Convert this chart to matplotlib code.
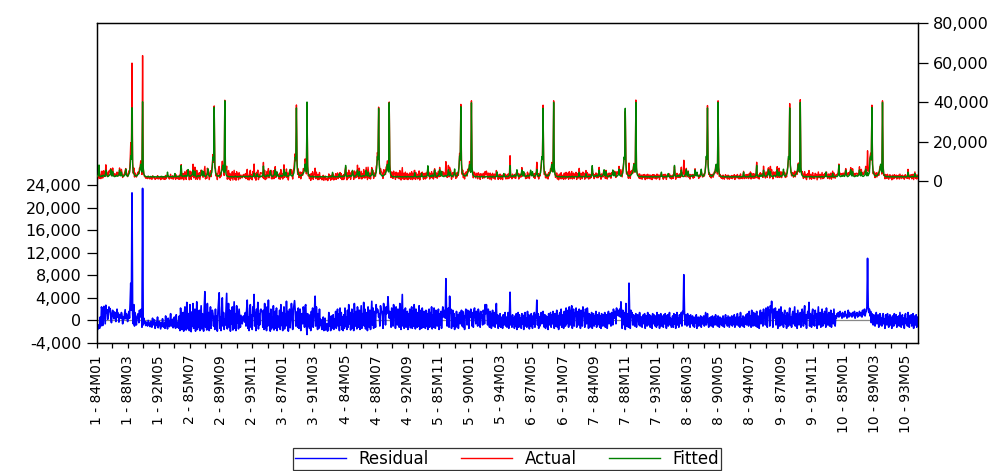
import matplotlib
matplotlib.use("Agg")
import matplotlib.pyplot as plt
from matplotlib.ticker import FuncFormatter, FixedLocator
from matplotlib.lines import Line2D
import numpy as np

# ---------------- data (values in hundreds) ----------------
# fitted values, one list per cross-section (132 monthly obs each)
fitted_s1 = [24, 22, 26, 31, 81, 27, 23, 22, 25, 28, 24, 30,
             26, 23, 29, 55, 33, 25, 22, 24, 27, 30, 36, 58,
             31, 25, 48, 27, 24, 22, 23, 26, 29, 25, 24, 27,
             30, 56, 32, 26, 45, 28, 24, 23, 25, 29, 33, 60,
             30, 26, 24, 27, 35, 42, 70, 128, 110, 371, 85, 45,
             38, 30, 27, 25, 28, 26, 31, 34, 40, 48, 62, 85,
             55, 45, 401, 70, 35, 28, 25, 23, 22, 21, 22, 24,
             21, 20, 22, 23, 21, 20, 22, 24, 21, 20, 22, 21,
             20, 22, 21, 23, 22, 20, 21, 22, 24, 21, 20, 22,
             21, 23, 22, 20, 21, 22, 45, 24, 22, 21, 23, 22,
             22, 21, 24, 22, 21, 23, 38, 22, 21, 22, 24, 23]
fitted_s2 = [23, 21, 27, 30, 78, 26, 22, 24, 25, 27, 23, 29,
             25, 22, 30, 58, 31, 24, 23, 25, 28, 31, 34, 55,
             30, 26, 50, 28, 23, 21, 24, 27, 28, 24, 25, 26,
             29, 54, 31, 27, 48, 29, 23, 22, 26, 30, 35, 62,
             31, 25, 23, 28, 36, 44, 72, 122, 105, 373, 82, 44,
             37, 29, 26, 24, 27, 25, 30, 33, 42, 50, 60, 80,
             52, 44, 406, 68, 34, 27, 24, 22, 23, 22, 21, 23,
             22, 21, 23, 22, 20, 21, 23, 25, 22, 21, 23, 22,
             21, 23, 22, 24, 21, 21, 22, 23, 25, 22, 21, 23,
             22, 24, 23, 21, 22, 23, 24, 26, 23, 21, 22, 24,
             23, 40, 25, 23, 22, 24, 36, 23, 22, 21, 25, 24]
fitted_s3 = [22, 24, 25, 29, 76, 28, 24, 21, 24, 29, 25, 31,
             27, 24, 28, 52, 34, 26, 23, 23, 26, 29, 37, 57,
             32, 24, 46, 26, 25, 23, 22, 25, 30, 26, 23, 28,
             31, 58, 33, 25, 44, 27, 25, 24, 24, 28, 32, 59,
             29, 27, 25, 26, 34, 41, 68, 120, 112, 370, 88, 46,
             39, 31, 28, 26, 29, 27, 32, 35, 39, 46, 64, 86,
             57, 46, 400, 72, 36, 29, 26, 24, 21, 22, 23, 25,
             20, 21, 21, 22, 22, 21, 21, 23, 20, 21, 23, 22,
             21, 21, 22, 22, 23, 21, 22, 21, 23, 22, 21, 21,
             20, 22, 23, 21, 22, 21, 22, 44, 23, 21, 22, 22,
             21, 22, 23, 21, 22, 22, 37, 21, 22, 23, 23, 22]
fitted_s4 = [25, 23, 24, 32, 79, 26, 22, 23, 26, 27, 25, 28,
             25, 24, 28, 54, 32, 26, 21, 25, 26, 31, 35, 56,
             30, 24, 47, 28, 25, 23, 24, 25, 28, 26, 25, 26,
             31, 55, 31, 25, 46, 27, 25, 22, 26, 28, 34, 58,
             31, 27, 25, 26, 36, 43, 69, 124, 108, 368, 84, 46,
             37, 31, 28, 24, 27, 27, 30, 35, 41, 47, 61, 84,
             54, 46, 396, 69, 36, 29, 24, 22, 23, 22, 21, 23,
             22, 21, 21, 24, 22, 21, 23, 23, 22, 21, 21, 22,
             21, 21, 22, 22, 23, 21, 20, 23, 23, 22, 21, 21,
             22, 22, 23, 21, 22, 21, 24, 42, 23, 23, 20, 22,
             21, 22, 25, 21, 22, 22, 39, 23, 22, 21, 23, 24]
fitted_s5 = [24, 23, 25, 30, 77, 28, 24, 22, 24, 28, 23, 31,
             27, 22, 30, 56, 32, 24, 23, 24, 28, 29, 37, 57,
             32, 26, 49, 26, 24, 23, 22, 27, 28, 24, 25, 28,
             29, 57, 33, 27, 46, 29, 23, 24, 24, 30, 32, 61,
             29, 25, 25, 28, 34, 43, 71, 126, 111, 376, 86, 44,
             39, 29, 28, 26, 29, 25, 32, 33, 41, 49, 63, 83,
             56, 44, 396, 71, 34, 28, 26, 22, 22, 21, 23, 24,
             21, 22, 22, 23, 20, 21, 22, 24, 21, 21, 22, 22,
             20, 22, 22, 23, 21, 20, 22, 22, 24, 22, 20, 23,
             21, 24, 22, 21, 21, 22, 23, 46, 24, 22, 22, 23,
             23, 21, 24, 23, 21, 22, 38, 22, 22, 21, 24, 23]
fitted_s6 = [23, 22, 26, 30, 78, 27, 22, 23, 25, 27, 24, 30,
             26, 23, 29, 57, 33, 25, 22, 25, 27, 30, 35, 56,
             31, 25, 47, 27, 24, 22, 23, 26, 29, 25, 25, 27,
             30, 55, 32, 26, 47, 28, 24, 23, 25, 29, 34, 59,
             30, 26, 24, 27, 35, 42, 70, 123, 109, 368, 85, 45,
             38, 30, 27, 25, 28, 26, 31, 34, 40, 48, 62, 84,
             55, 45, 398, 70, 35, 28, 25, 23, 22, 21, 22, 24,
             21, 20, 22, 23, 21, 20, 22, 24, 21, 20, 22, 21,
             20, 22, 21, 23, 22, 20, 21, 22, 24, 21, 20, 22,
             21, 23, 22, 20, 21, 22, 23, 44, 24, 22, 21, 23,
             22, 21, 24, 22, 21, 23, 37, 22, 21, 22, 24, 23]
fitted_s7 = [24, 21, 25, 31, 78, 28, 23, 22, 24, 28, 25, 29,
             26, 24, 28, 55, 34, 24, 23, 24, 26, 30, 36, 57,
             30, 25, 48, 28, 24, 21, 23, 26, 28, 25, 24, 28,
             31, 56, 31, 26, 45, 27, 24, 24, 25, 28, 33, 60,
             30, 27, 24, 26, 35, 41, 70, 121, 110, 368, 84, 45,
             38, 30, 26, 25, 28, 27, 31, 33, 40, 47, 62, 85,
             55, 45, 398, 70, 35, 27, 25, 23, 22, 22, 22, 24,
             21, 21, 22, 23, 21, 21, 22, 23, 21, 20, 22, 22,
             20, 22, 22, 23, 21, 20, 21, 22, 24, 22, 20, 22,
             21, 23, 22, 21, 21, 22, 23, 45, 23, 22, 21, 23,
             22, 22, 24, 22, 21, 23, 38, 22, 22, 22, 24, 22]
fitted_s8 = [23, 22, 25, 30, 79, 27, 23, 23, 25, 27, 24, 30,
             26, 23, 29, 56, 33, 25, 22, 24, 27, 30, 36, 58,
             31, 25, 47, 27, 24, 22, 23, 26, 29, 25, 24, 27,
             30, 56, 32, 26, 45, 28, 24, 23, 25, 29, 33, 60,
             30, 26, 24, 27, 35, 42, 70, 125, 110, 370, 85, 45,
             38, 30, 27, 25, 28, 26, 31, 34, 40, 48, 62, 85,
             55, 45, 398, 70, 35, 28, 25, 23, 22, 21, 22, 24,
             21, 20, 22, 23, 21, 20, 22, 24, 21, 20, 22, 21,
             20, 22, 21, 23, 22, 20, 21, 22, 24, 21, 20, 22,
             21, 23, 22, 20, 21, 22, 23, 45, 24, 22, 21, 23,
             22, 21, 24, 22, 21, 23, 38, 22, 21, 22, 24, 23]
fitted_s9 = [22, 23, 26, 30, 79, 27, 24, 22, 24, 28, 24, 31,
             26, 23, 28, 55, 33, 25, 23, 24, 27, 30, 36, 57,
             31, 25, 48, 27, 24, 22, 23, 26, 29, 25, 24, 27,
             30, 57, 32, 26, 45, 28, 24, 23, 25, 29, 33, 60,
             30, 26, 24, 27, 35, 42, 70, 124, 110, 370, 85, 45,
             38, 30, 27, 25, 28, 26, 31, 34, 40, 48, 62, 85,
             55, 45, 398, 70, 35, 28, 25, 23, 22, 21, 22, 24,
             21, 20, 22, 23, 21, 20, 22, 24, 21, 20, 22, 21,
             20, 22, 21, 23, 22, 20, 21, 22, 24, 21, 20, 22,
             21, 23, 22, 20, 21, 22, 23, 45, 24, 22, 21, 23,
             22, 21, 24, 22, 21, 23, 38, 22, 21, 22, 24, 23]
fitted_s10 = [23, 22, 26, 31, 80, 27, 23, 22, 25, 28, 24, 30,
              26, 23, 29, 55, 33, 25, 22, 24, 27, 30, 36, 58,
              31, 25, 48, 27, 24, 22, 23, 26, 29, 25, 24, 27,
              30, 56, 32, 26, 45, 28, 24, 23, 25, 29, 33, 60,
              30, 26, 43, 27, 35, 42, 115, 125, 110, 372, 85, 45,
              38, 30, 27, 25, 28, 26, 31, 34, 40, 48, 62, 85,
              55, 45, 398, 70, 35, 28, 25, 23, 22, 21, 22, 24,
              21, 20, 22, 23, 21, 20, 22, 24, 21, 20, 22, 21,
              20, 22, 21, 23, 22, 20, 21, 22, 24, 21, 20, 22,
              21, 23, 22, 20, 21, 22, 23, 45, 24, 22, 21, 23,
              22, 21, 24, 22, 21, 23, 38, 22, 21, 22, 24, 23]

# residuals (actual - fitted), one list per cross-section
resid_s1 = [-15, -12, -16, -8, -8, -14, 6, -10, 24, 18, -9, 22,
            25, 8, -6, 27, 14, 19, 2, 10, 24, 16, 21, 5,
            -4, 12, 18, 9, 3, 15, 11, -2, 8, 20, 6, 13,
            -3, 10, 7, 4, 14, 9, -6, 6, 2, 11, 19, 3,
            12, 5, -2, 8, 16, 4, 30, 66, 18, 226, 12, -6,
            28, -10, 14, 2, -8, 5, 9, 12, -4, 18, 6, 17,
            20, -12, 234, -8, 4, -5, -2, -9, -3, -6, -10, 0,
            -4, -8, -11, -2, -7, -12, 4, -8, -5, 1, -14, -10,
            -3, -8, 6, -13, -6, -2, -9, -15, -4, -11, 3, -7,
            -12, -5, -14, 8, -9, -3, -15, 4, -6, -11, -2, 12,
            -10, -4, 2, -13, -7, 6, -9, -14, 10, -6, -12, -3]
resid_s2 = [-14, 8, -18, 22, 5, -16, -8, 14, -19, 10, 24, -12,
            -17, 32, 5, -15, 12, -18, 28, -6, -20, 15, -10, 30,
            -14, 8, 20, -19, -5, 33, -16, 10, -12, 18, -18, 4,
            26, -15, 12, -8, -19, 22, 51, -12, 8, -17, 30, -10,
            14, -18, 6, 24, -14, 10, 18, 12, -10, 7, -16, 20,
            -12, 8, -19, 16, 34, 49, -14, 6, -18, 22, 40, -10,
            14, -16, 3, -8, 20, 48, -15, 4, 30, -12, 18, -19,
            10, -6, 24, -17, 8, 33, -14, 12, -18, 26, -4, 16,
            -15, 20, 4, -12, 9, 2, -6, 5, 8, 0, -3, 14,
            -10, 18, 36, -14, 6, -18, 22, 28, -12, 10, -16, 24,
            8, 46, -10, 14, -18, 20, -6, 32, -15, 12, -8, 18]
resid_s3 = [20, 16, 14, -12, 18, -16, 30, -14, 8, -18, 24, -10,
            36, -8, 12, -19, 20, -15, 6, -12, 26, -17, 10, 16,
            -14, 22, -18, 8, 4, -12, 18, -16, 28, -9, 14, -18,
            6, 24, -15, 12, -10, 34, -8, 16, -19, 10, 20, -13,
            8, 30, 12, -16, 18, 26, 35, 18, -10, 15, 14, -12,
            22, -14, 6, 20, -18, 8, 12, -6, 24, 16, -12, 26,
            28, -10, -25, 12, -10, 4, -14, 10, -18, 16, -8, 22,
            -12, 6, 18, 43, -10, 24, 8, -16, 12, -14, 20, -9,
            2, -10, -16, -12, 6, -18, -8, 4, -17, -12, -6, -19,
            -15, 14, -10, 4, -18, 8, -14, -6, 10, -16, 2, -12,
            16, -14, 8, 20, -10, 12, -18, 22, -8, 14, -16, 6]
resid_s4 = [-18, 10, -14, 22, -10, 6, -16, 18, -12, 28, -6, 14,
            -17, 8, 20, -14, 12, -18, 30, 4, -10, 16, -15, 24,
            10, -12, 18, -16, 6, 26, -14, 12, -8, 32, -10, 20,
            -15, 14, 8, -18, 24, 12, -12, 18, -16, 10, 34, -8,
            22, -14, 16, 6, -12, 28, 14, 20, 18, 6, 12, -10,
            26, 18, 16, 8, -14, 30, 14, 20, -8, 24, 12, 18,
            42, 20, 4, 16, 6, -12, 22, 16, -10, 28, 18, 10,
            -14, 24, 12, -8, 20, 16, -12, 30, 4, -16, 14, 46,
            -10, 18, -14, 10, 22, -12, 6, 16, -16, 12, -8, 20,
            -13, 8, 24, -14, 16, -10, 28, 12, -15, 20, 6, -12,
            14, -10, 26, -16, 10, 18, -14, 22, 8, -12, 16, 4]
resid_s5 = [-14, 18, -10, 12, -16, 16, 20, -12, 14, -8, 24, -15,
            10, -12, 22, 6, -14, 18, 14, -10, 8, 20, -16, 12,
            -8, 16, -14, 10, 24, 6, 18, 12, 4, 74, 16, -10,
            8, 22, -12, 43, 14, 20, -14, 6, 18, -10, 12, -16,
            4, -12, 16, -8, 10, -14, 2, 14, -6, 12, 18, -10,
            16, -12, 8, -16, 10, 20, 14, -8, 18, 12, -14, 16,
            6, 20, 10, -10, 14, -12, 18, 22, 8, -6, 16, 12,
            -10, 20, 14, 8, -12, 16, 4, 10, -8, 18, 12, -6,
            28, 12, 28, 14, -8, 20, 6, -12, 16, 10, -14, 8,
            18, -10, 4, 14, -12, 6, 30, -6, 10, -14, 8, -10,
            12, -12, 4, 6, -14, 10, -8, 2, 14, -10, 6, -12]
resid_s6 = [-10, 14, -14, 8, 50, -8, 6, -12, 10, -6, 4, -14,
            8, -10, 12, -16, 6, 14, -12, 10, -8, 4, -14, 12,
            -6, 8, -16, 10, 14, -10, 4, -12, 16, -8, 10, -15,
            6, -10, 12, 2, -14, 8, -6, 14, -12, 10, 4, 36,
            -8, 12, -14, 6, -10, 10, 14, -6, 8, 16, 4, -12,
            10, -14, 8, -10, 6, -16, 12, -8, 4, 14, -12, 10,
            -6, 16, 8, -14, 12, -10, 6, 18, -12, 8, -16, 10,
            14, -8, 20, -12, 6, 10, -14, 16, 8, -10, 22, -6,
            12, 18, -12, 24, 10, -8, 16, 26, -14, 12, 20, -10,
            14, 8, 22, -12, 10, 16, -8, 20, 6, -14, 18, 12,
            -10, 24, 8, 14, -12, 20, 16, -6, 22, 10, -14, 12]
resid_s7 = [-12, 10, -8, 14, -14, 6, 12, -10, 8, -6, 16, -12,
            10, -8, 4, 14, -12, 8, -14, 12, 6, -10, 10, -8,
            14, -12, 6, 10, -14, 8, 16, -6, 12, 4, -10, 14,
            8, -8, 20, 12, 4, 16, -6, 22, 10, 18, 8, 14,
            20, 6, 33, 12, -14, 18, 10, -8, 14, -16, 30, -10,
            8, 12, -12, 66, 10, -14, 18, 6, 14, -8, 10, 4,
            -10, 8, 12, -12, 6, 10, 2, -8, 14, -10, 4, 6,
            -12, 8, 10, -6, 12, -14, 4, 8, -10, 14, -8, 6,
            10, -12, 8, 4, -14, 12, -6, 10, 6, -10, 8, -12,
            14, -8, 6, 10, -14, 4, 12, -10, 8, 6, -12, 10,
            -6, 12, 4, -14, 8, 10, -10, 6, 14, -8, 4, -12]
resid_s8 = [-10, 8, -12, 12, -6, 10, -14, 6, 14, -8, 4, -12,
            10, -6, 8, 14, -10, 16, 12, 81, 18, -8, 10, 6,
            -10, 12, 4, -8, 8, -12, 10, 2, -6, 8, -10, 4,
            -12, 6, -4, 10, -14, 2, 6, -10, 4, -8, 8, -12,
            6, -6, -2, 8, -10, 2, 14, -8, 6, 12, -4, -12,
            4, -8, 6, -10, 2, 8, -12, -4, 6, -8, 10, -6,
            2, -10, 8, -4, -12, 6, 0, -8, 4, -10, 8, -6,
            -12, 2, 10, -6, 4, -10, 8, -2, -12, 6, 0, -8,
            8, -10, 4, -6, 10, -12, 2, 6, -8, 12, -4, -10,
            6, -12, 14, -6, 2, -10, 8, 4, -12, 6, -6, 10,
            -8, 12, 4, -10, 16, -6, 8, -12, 18, 2, -10, 14]
resid_s9 = [-8, 12, -10, 6, 16, -12, 8, 4, -14, 10, 18, -6,
            8, 14, -10, 20, 6, 12, -8, 22, 16, -12, 24, 10,
            18, -10, 26, 14, 34, 8, -12, 20, 12, 4, 22, -8,
            10, 16, -14, 6, 20, -10, 12, 24, -8, 14, 6, -12,
            10, 18, -6, 8, -14, 14, 4, -10, 12, 22, -8, 6,
            -12, 10, 16, -6, 8, 24, -10, 12, 4, -14, 18, 6,
            -8, 10, 14, -12, 6, 20, 8, -10, 12, 26, -6, 10,
            -14, 8, 16, 4, 32, -10, 12, 6, -12, 14, 20, -8,
            8, -10, 18, 4, 12, -14, 6, 24, -8, 10, 14, -12,
            6, 20, -10, 12, -6, 16, 8, -12, 22, 4, -8, 10,
            14, -10, 6, 18, -12, 8, 12, -6, 20, 4, -10, 8]
resid_s10 = [4, 12, 8, 14, 6, 10, 16, 8, 12, 4, 14, 10,
             6, 12, 16, 8, 10, 4, 12, 18, 6, 14, 8, 10,
             12, 6, 14, 10, 8, 16, 4, 12, 10, 14, 6, 8,
             12, 16, 8, 10, 14, 6, 18, 10, 12, 20, 8, 14,
             16, 24, 110, 26, 14, 20, 8, 16, -4, 12, 6, -8,
             10, 4, -10, 8, 14, -6, 2, 10, -12, 6, 12, -8,
             4, -10, 8, 12, -6, 2, -14, 10, 6, -8, 12, -4,
             -12, 6, 10, -8, 4, -14, 8, 2, -10, 12, -6, 4,
             10, -12, 6, -4, 8, -10, 14, 2, -12, 6, 10, -8,
             4, -14, 8, 12, -6, 2, -10, 14, 6, -12, 8, -4,
             10, -10, 6, 12, -14, 4, 8, -8, 10, -12, 6, 2]

tick_labels = ["1 - 84M01", "1 - 88M03", "1 - 92M05", "2 - 85M07", "2 - 89M09",
               "2 - 93M11", "3 - 87M01", "3 - 91M03", "4 - 84M05", "4 - 88M07",
               "4 - 92M09", "5 - 85M11", "5 - 90M01", "5 - 94M03", "6 - 87M05",
               "6 - 91M07", "7 - 84M09", "7 - 88M11", "7 - 93M01", "8 - 86M03",
               "8 - 90M05", "8 - 94M07", "9 - 87M09", "9 - 91M11", "10 - 85M01",
               "10 - 89M03", "10 - 93M05"]
series_names = ["Residual", "Actual", "Fitted"]

fitted_sections = [fitted_s1, fitted_s2, fitted_s3, fitted_s4, fitted_s5,
                   fitted_s6, fitted_s7, fitted_s8, fitted_s9, fitted_s10]
resid_sections = [resid_s1, resid_s2, resid_s3, resid_s4, resid_s5,
                  resid_s6, resid_s7, resid_s8, resid_s9, resid_s10]
for k, (f, r) in enumerate(zip(fitted_sections, resid_sections)):
    assert len(f) == 132, f"fitted_s{k+1} has {len(f)}"
    assert len(r) == 132, f"resid_s{k+1} has {len(r)}"

fitted = np.concatenate([np.array(s, float) for s in fitted_sections]) * 100
resid = np.concatenate([np.array(s, float) for s in resid_sections]) * 100
actual = fitted + resid
x = np.arange(len(fitted))

# ---------------- figure ----------------
W, H = 1005, 471
fig = plt.figure(figsize=(W / 100, H / 100), dpi=100)
left, right, top, bottom = 96.5, 918, 23, 343
ax = fig.add_axes([left / W, 1 - bottom / H, (right - left) / W, (bottom - top) / H])

BLUE, RED, GREEN = "#0000ff", "#ff0000", "#008000"

ax.axhline(0, color="#888888", lw=0.9, zorder=1)
ax.plot(x, resid, color=BLUE, lw=1.2, zorder=2)
ax.set_xlim(0, 1319)
ax.set_ylim(-4000, 52709)
ax.yaxis.set_major_locator(FixedLocator(list(range(-4000, 24001, 4000))))

ax2 = ax.twinx()
ax2.plot(x, actual, color=RED, lw=1.0, zorder=2)
ax2.plot(x, fitted, color=GREEN, lw=1.0, zorder=3)
ax2.set_ylim(-82025, 80000)
ax2.yaxis.set_major_locator(FixedLocator(list(range(0, 80001, 20000))))

fmt = FuncFormatter(lambda v, p: f"{v:,.0f}")
ax.yaxis.set_major_formatter(fmt)
ax2.yaxis.set_major_formatter(fmt)

major_pos = list(range(0, 1301, 50))
ax.xaxis.set_major_locator(FixedLocator(major_pos))
ax.xaxis.set_minor_locator(FixedLocator(list(range(25, 1320, 50))))
ax.set_xticklabels(tick_labels)

for a in (ax, ax2):
    for sp in a.spines.values():
        sp.set_linewidth(0.9)
        sp.set_color("black")

ax.tick_params(axis="y", direction="out", length=7, width=0.9, pad=4, labelsize=11.5)
ax2.tick_params(axis="y", direction="out", length=7, width=0.9, pad=4, labelsize=11.5)
ax.tick_params(axis="x", which="both", direction="out", length=3.6, width=0.9,
               pad=5, labelsize=10, labelrotation=90)

handles = [Line2D([], [], color=BLUE, lw=1.0),
           Line2D([], [], color=RED, lw=1.0),
           Line2D([], [], color=GREEN, lw=1.0)]
leg = fig.legend(handles, series_names, loc="upper center",
                 bbox_to_anchor=(507 / W, 1 - 448 / H), ncol=3, frameon=True,
                 fancybox=False, edgecolor="black", fontsize=12,
                 handlelength=3.1, handletextpad=0.75, columnspacing=1.9,
                 borderpad=0.12, borderaxespad=0)
leg.get_frame().set_linewidth(0.9)

fig.savefig("out.png", dpi=100)
